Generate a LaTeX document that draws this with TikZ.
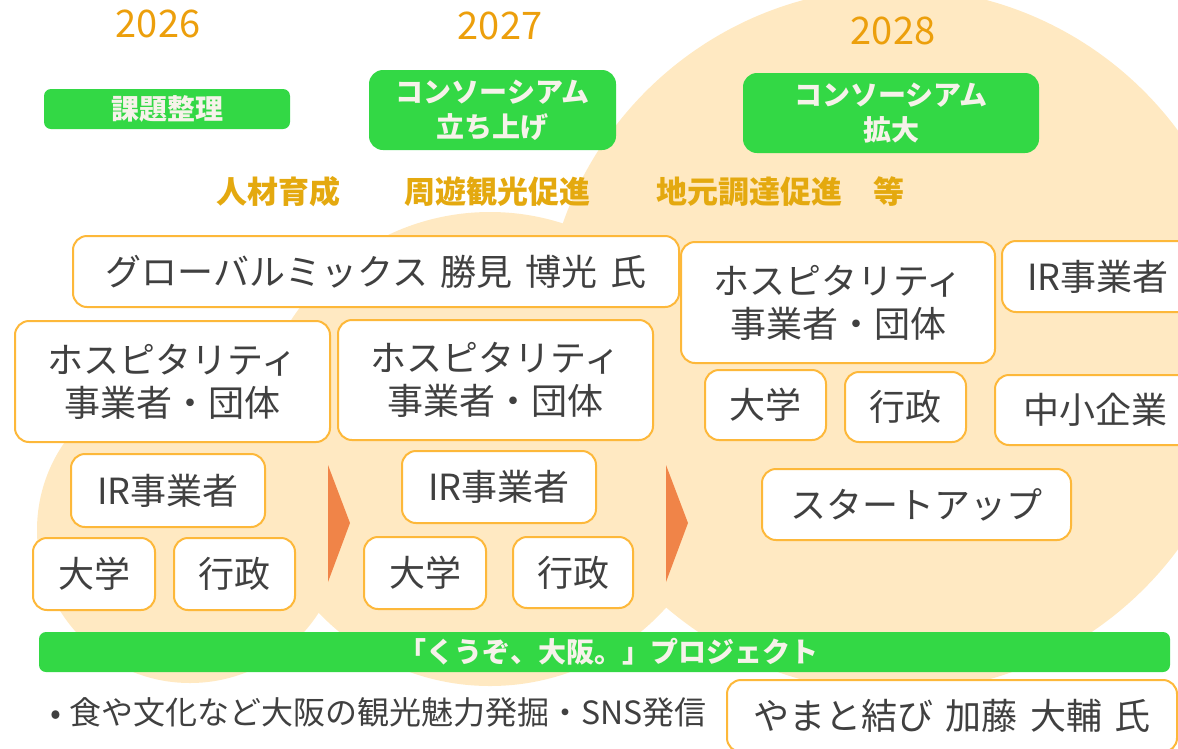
\documentclass[tikz,border=0pt]{standalone}
\usepackage{fontspec}
\setmainfont{Noto Sans CJK JP}
\definecolor{circfill}{HTML}{FFE9C2}
\definecolor{boxorange}{HTML}{FDB83A}
\definecolor{brandgreen}{HTML}{33D845}
\definecolor{offwhite}{HTML}{F6F2EA}
\definecolor{yearorange}{HTML}{EC9F0C}
\definecolor{goldlbl}{HTML}{E4A90F}
\definecolor{arroworange}{HTML}{F08448}
\definecolor{textgray}{HTML}{404040}
\begin{document}
\begin{tikzpicture}[x=1pt,y=-1pt,
  wbox/.style={draw=boxorange, line width=2pt, fill=white, rounded corners=14pt,
    text=textgray, font=\fontsize{36}{43}\selectfont, align=center, inner sep=0pt},
  gbox/.style={fill=brandgreen, rounded corners=14pt, text=offwhite,
    font=\bfseries\fontsize{28}{35}\selectfont, align=center, inner sep=0pt},
  gbar/.style={gbox, rounded corners=7pt},
  yearlbl/.style={text=yearorange, font=\fontsize{38}{42}\selectfont, inner sep=0pt},
  catlbl/.style={text=goldlbl, font=\bfseries\fontsize{31}{34}\selectfont, inner sep=0pt},
  bullettxt/.style={text=textgray, font=\fontsize{32}{36}\selectfont, inner sep=0pt, anchor=west},
  stagearrow/.style={fill=arroworange}
]
\useasboundingbox (0,0) rectangle (1178,748);
\begin{scope}
\clip (0,0) rectangle (1178,748);
% background circles
\fill[circfill] (190,530) circle[radius=153pt];
\fill[circfill] (490,449) circle[radius=237pt];
\fill[circfill] (895,340) circle[radius=352pt];

% years
\node[yearlbl] (y26) at (158,24) {2026};
\node[yearlbl] (y27) at (500,26) {2027};
\node[yearlbl] (y28) at (893,31) {2028};

% green stage boxes
\node[gbox, rounded corners=7pt, minimum width=246pt, minimum height=40pt] (task) at (167,109) {課題整理};
\node[gbox, minimum width=247pt, minimum height=80pt] (cons1) at (492.5,110) {コンソーシアム\\立ち上げ};
\node[gbox, minimum width=296pt, minimum height=80pt] (cons2) at (891,113) {コンソーシアム\\拡大};

% categories
\node[catlbl] (cat1) at (278,192) {人材育成};
\node[catlbl] (cat2) at (497,192) {周遊観光促進};
\node[catlbl] (cat3) at (780,192) {地元調達促進　等};

% white boxes
\node[wbox, minimum width=606pt, minimum height=71pt] (glob) at (376,271.5) {グローバルミックス\hspace{.35em}勝見\hspace{.35em}博光\hspace{.35em}氏};
\node[wbox, minimum width=315pt, minimum height=121pt] (hosp1) at (172.5,381.5) {ホスピタリティ\\事業者・団体};
\node[wbox, minimum width=315pt, minimum height=120pt] (hosp2) at (495.5,380) {ホスピタリティ\\事業者・団体};
\node[wbox, minimum width=314pt, minimum height=121pt] (hosp3) at (838,302.5) {ホスピタリティ\\事業者・団体};
\node[wbox, minimum width=192pt, minimum height=71pt] (ir3) at (1098,276.5) {IR事業者};
\node[wbox, minimum width=121pt, minimum height=70pt] (univ3) at (765.5,405) {大学};
\node[wbox, minimum width=121pt, minimum height=70pt] (gov3) at (905.5,407) {行政};
\node[wbox, minimum width=200pt, minimum height=70pt] (sme) at (1095,410) {中小企業};
\node[wbox, minimum width=309pt, minimum height=71pt] (startup) at (916.5,504.5) {スタートアップ};
\node[wbox, minimum width=194pt, minimum height=73pt] (ir1) at (168,490.5) {IR事業者};
\node[wbox, minimum width=122pt, minimum height=72pt] (univ1) at (94,574) {大学};
\node[wbox, minimum width=121pt, minimum height=72pt] (gov1) at (234.5,574) {行政};
\node[wbox, minimum width=194pt, minimum height=72pt] (ir2) at (499,487) {IR事業者};
\node[wbox, minimum width=122pt, minimum height=72pt] (univ2) at (425,573) {大学};
\node[wbox, minimum width=120pt, minimum height=71pt] (gov2) at (573,572.5) {行政};

% stage arrows
\fill[stagearrow] (328,465) -- (350,523) -- (328,582) -- cycle;
\fill[stagearrow] (666,465) -- (688,523) -- (666,582) -- cycle;

% project bar
\node[gbar, minimum width=1131pt, minimum height=40pt] (bar) at (604.5,652) {\hspace{8pt}「くうぞ、大阪。」プロジェクト};

% bottom line
\node[bullettxt] (bullet) at (50,712) {•\hspace{.25em}食や文化など大阪の観光魅力発掘・SNS発信};
\node[wbox, minimum width=450pt, minimum height=72pt] (yamato) at (952,716) {やまと結び\hspace{.35em}加藤\hspace{.35em}大輔\hspace{.35em}氏};
\end{scope}
\end{tikzpicture}
\end{document}
